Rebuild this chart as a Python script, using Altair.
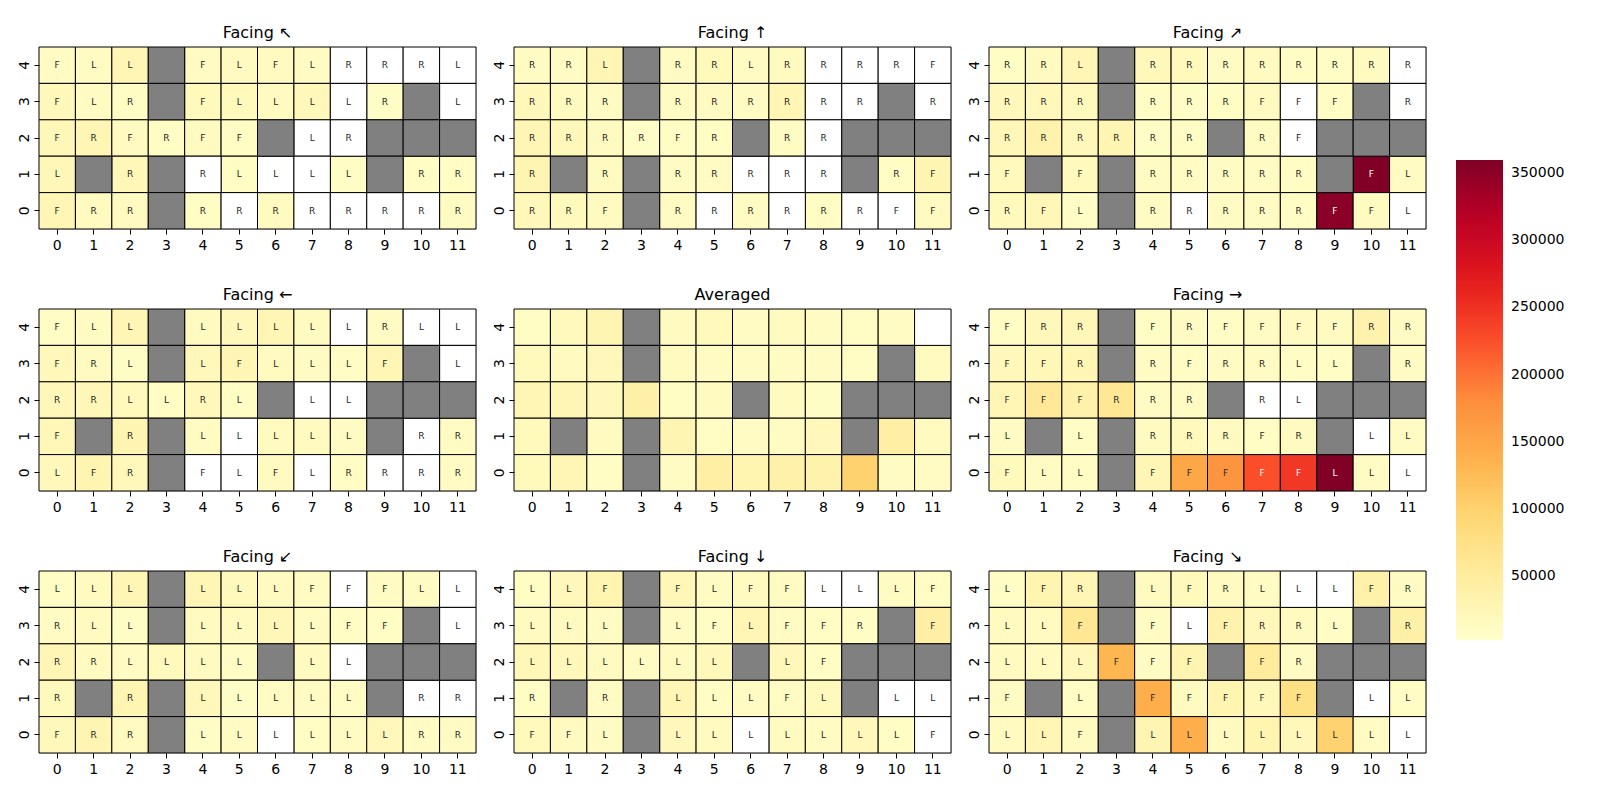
import altair as alt
import pandas as pd

# ---------------- data (rows listed from y=4 at top down to y=0) ----------------
PANELS = ["Facing ↖", "Facing ↑", "Facing ↗",
          "Facing ←", "Averaged", "Facing →",
          "Facing ↙", "Facing ↓", "Facing ↘"]

N = None

LET_NW = ["FLL#FLFLRRRL", "FLR#FLLLLR#L", "FRFRFF#LR###", "L#R#RLLLL#RR", "FRR#RRRRRRRR"]
VAL_NW = [[12000, 12000, 25000, N, 12000, 15000, 15000, 12000, N, N, N, N],
          [20000, 12000, 10000, N, 18000, 18000, 15000, 20000, N, 8000, N, N],
          [22000, 25000, 15000, 10000, 15000, 10000, N, N, N, N, N, N],
          [22000, N, 22000, N, N, 10000, N, N, 8000, N, 10000, 10000],
          [25000, 15000, 15000, N, 10000, N, 15000, N, N, N, N, 12000]]

LET_N = ["RRL#RRLRRRRF", "RRR#RRRRRR#R", "RRRRFR#RR###", "R#R#RRRRR#RF", "RRF#RRRRRRFF"]
VAL_N = [[12000, 12000, 25000, N, 12000, 18000, 12000, 15000, N, N, N, N],
         [20000, 15000, 12000, N, 12000, 15000, 12000, 25000, N, N, N, N],
         [25000, 20000, 15000, 8000, 10000, 10000, N, 12000, N, N, N, N],
         [28000, N, 15000, N, 12000, 12000, N, N, N, N, 10000, 28000],
         [20000, 18000, 15000, N, 12000, N, 12000, N, 10000, N, N, 15000]]

LET_NE = ["RRL#RRRRRRRR", "RRR#RRRFFF#R", "RRRRRR#RF###", "F#F#RRRRR#FL", "RFL#RRRRRFFL"]
VAL_NE = [[10000, 15000, 25000, N, 20000, 18000, 12000, 15000, 10000, 10000, 15000, N],
          [20000, 20000, 18000, N, 10000, 8000, 10000, 15000, N, 10000, N, N],
          [22000, 35000, 20000, 28000, 8000, 10000, N, 12000, N, N, N, N],
          [18000, N, 18000, N, 12000, 12000, 12000, 12000, 10000, N, 360000, 12000],
          [18000, 22000, 8000, N, 12000, N, 12000, 12000, 10000, 352000, 15000, N]]

LET_W = ["FLL#LLLLLRLL", "FRL#LFLLLF#L", "RRLLRL#LL###", "F#R#LLLLL#RR", "LFR#FLFLRRRR"]
VAL_W = [[10000, 12000, 25000, N, 15000, 20000, 25000, 15000, N, 12000, N, N],
         [20000, 15000, 8000, N, 20000, 25000, 15000, 12000, 10000, 25000, N, N],
         [22000, 22000, 18000, 10000, 20000, 10000, N, N, N, N, N, N],
         [22000, N, 28000, N, 12000, N, 15000, 15000, 12000, N, N, 12000],
         [20000, 30000, 20000, N, N, N, 15000, N, 10000, N, N, 12000]]

LET_AVG = ["...#........", "...#......#.", "......#..###", ".#.#.....#..", "...#........"]
VAL_AVG = [[10000, 18000, 28000, N, 15000, 18000, 12000, 15000, 12000, 10000, 12000, N],
           [18000, 15000, 20000, N, 15000, 12000, 12000, 12000, 12000, 10000, N, 15000],
           [25000, 25000, 20000, 40000, 10000, 15000, N, 15000, 8000, N, N, N],
           [18000, N, 15000, N, 28000, 10000, 12000, 12000, 20000, N, 42000, 15000],
           [18000, 25000, 10000, N, 12000, 42000, 30000, 38000, 35000, 100000, 12000, 12000]]

LET_E = ["FRR#FRFFFFRR", "FFR#RFRRLL#R", "FFFRRR#RL###", "L#L#RRRFR#LL", "FLL#FFFFFLLL"]
VAL_E = [[10000, 20000, 22000, N, 10000, 12000, 10000, 12000, 15000, 15000, 35000, 12000],
         [20000, 22000, 25000, N, 12000, 10000, 12000, 12000, 10000, 10000, N, 12000],
         [25000, 55000, 38000, 60000, 12000, 12000, N, N, N, N, N, N],
         [12000, N, 10000, N, 15000, 18000, 15000, 10000, 15000, N, N, 12000],
         [18000, 12000, 10000, N, 25000, 150000, 172000, 226000, 245000, 360000, 12000, N]]

LET_SW = ["LLL#LLLFFFLL", "RLL#LLLLFF#L", "RRLLLL#LL###", "R#R#LLLLL#RR", "FRR#LLLLLLRR"]
VAL_SW = [[10000, 15000, 25000, N, 25000, 18000, 15000, 12000, N, 12000, 12000, N],
          [12000, 15000, 8000, N, 15000, 15000, 22000, 12000, 10000, 10000, N, N],
          [25000, 15000, 12000, 18000, 15000, 10000, N, 15000, N, N, N, N],
          [18000, N, 28000, N, 20000, 8000, 12000, 12000, 10000, N, N, N],
          [20000, 28000, 15000, N, 8000, 12000, N, 10000, 12000, 20000, 12000, 12000]]

LET_S = ["LLF#FLFFLLLF", "LLL#LFLFFR#F", "LLLLLL#LF###", "R#R#LLLFL#LL", "FFL#LLLLLLLF"]
VAL_S = [[10000, 20000, 30000, N, 22000, 12000, 15000, 12000, N, N, 12000, 10000],
         [15000, 15000, 12000, N, 12000, 10000, 25000, 12000, 10000, 10000, N, 42000],
         [22000, 20000, 15000, 12000, 15000, 20000, N, 20000, 10000, N, N, N],
         [10000, N, 12000, N, 25000, 10000, 12000, 12000, 18000, N, N, N],
         [18000, 15000, 12000, N, 20000, 15000, N, 15000, 12000, 20000, 10000, N]]

LET_SE = ["LFR#LFRLLLFR", "LLF#FLFRRL#R", "LLLFFF#FR###", "F#L#FFFFF#LL", "LLF#LLLLLLLL"]
VAL_SE = [[10000, 30000, 25000, N, 15000, 18000, 15000, 12000, N, N, 38000, 12000],
          [15000, 15000, 60000, N, 12000, N, 35000, 20000, 15000, 10000, N, 40000],
          [15000, 15000, 20000, 132000, 12000, 30000, N, 50000, 12000, N, N, N],
          [12000, N, 10000, N, 140000, 15000, 30000, 20000, 75000, N, N, 10000],
          [15000, 25000, 15000, N, 28000, 140000, 15000, 30000, 20000, 100000, 12000, N]]

LETTERS = [LET_NW, LET_N, LET_NE, LET_W, LET_AVG, LET_E, LET_SW, LET_S, LET_SE]
VALUES = [VAL_NW, VAL_N, VAL_NE, VAL_W, VAL_AVG, VAL_E, VAL_SW, VAL_S, VAL_SE]

X_TICKS = list(range(12))
Y_TICKS = [4, 3, 2, 1, 0]

CMIN, CMAX = 2000, 360000
YLORRD = ["#ffffcc", "#ffeda0", "#fed976", "#feb24c", "#fd8d3c",
          "#fc4e2a", "#e31a1c", "#bd0026", "#800026"]
LEGEND_VALUES = [50000, 100000, 150000, 200000, 250000, 300000, 350000]

rows = []
for name, lets, vals in zip(PANELS, LETTERS, VALUES):
    for ri, yv in enumerate(Y_TICKS):
        for xi in X_TICKS:
            ch = lets[ri][xi]
            v = vals[ri][xi]
            if ch == "#":
                kind = "wall"
            elif v is None:
                kind = "empty"
            else:
                kind = "val"
            dark = (v is not None) and v > 200000
            rows.append(dict(panel=name, x=xi, y=yv, v=v,
                             t="" if ch in "#." else ch, kind=kind,
                             tcol="light" if dark else "dark"))
df = pd.DataFrame(rows)

FONT = "DejaVu Sans"
W, H = 437, 182
domain_stops = [CMIN + (CMAX - CMIN) * i / 8 for i in range(9)]


def panel(name, with_legend):
    base = alt.Chart(df).transform_filter(alt.datum.panel == name)
    xenc = alt.X("x:O", scale=alt.Scale(domain=X_TICKS, paddingInner=0, paddingOuter=0),
                 axis=alt.Axis(title=None, labelAngle=0, domain=False, tickSize=5,
                               tickColor="black", labelColor="black", labelFontSize=14,
                               labelFont=FONT, labelPadding=4, minExtent=24, maxExtent=24))
    yenc = alt.Y("y:O", scale=alt.Scale(domain=Y_TICKS, paddingInner=0, paddingOuter=0),
                 axis=alt.Axis(title=None, labelAngle=270, domain=False, tickSize=5,
                               tickColor="black", labelColor="black", labelFontSize=14,
                               labelFont=FONT, labelPadding=10, labelBaseline="middle",
                               minExtent=28, maxExtent=28))
    legend = alt.Legend(title=None, orient="none", legendX=1417, legendY=113,
                        gradientLength=480, gradientThickness=47, gradientStrokeWidth=0,
                        values=LEGEND_VALUES, format="d", labelFontSize=14,
                        labelFont=FONT, labelColor="black", labelOffset=8) if with_legend else None
    heat = base.transform_filter(alt.datum.kind == "val").mark_rect(
        stroke="black", strokeWidth=1).encode(
        x=xenc, y=yenc,
        color=alt.Color("v:Q", scale=alt.Scale(domain=domain_stops, range=YLORRD,
                                               interpolate="rgb"), legend=legend))
    empty = base.transform_filter(alt.datum.kind == "empty").mark_rect(
        fill="white", stroke="black", strokeWidth=1).encode(x=xenc, y=yenc)
    wall = base.transform_filter(alt.datum.kind == "wall").mark_rect(
        fill="#808080", stroke="black", strokeWidth=1).encode(x=xenc, y=yenc)
    text_dark = base.transform_filter(
        (alt.datum.t != "") & (alt.datum.tcol == "dark")).mark_text(
        font=FONT, fontSize=9, fill="#262626").encode(x=xenc, y=yenc, text="t:N")
    text_light = base.transform_filter(
        (alt.datum.t != "") & (alt.datum.tcol == "light")).mark_text(
        font=FONT, fontSize=9, fill="white").encode(x=xenc, y=yenc, text="t:N")
    return alt.layer(heat, empty, wall, text_dark, text_light).properties(
        width=W, height=H,
        title=alt.TitleParams(name, font=FONT, fontSize=16, fontWeight="normal",
                              color="black", offset=6))


grid_rows = []
for r in range(3):
    grid_rows.append(alt.hconcat(*[panel(PANELS[r * 3 + c], r == 0 and c == 0)
                                   for c in range(3)], spacing=8))
chart = alt.vconcat(*grid_rows, spacing=32).resolve_scale(color="shared").configure_view(
    stroke=None).properties(
    padding={"left": 2, "top": 16, "right": 5, "bottom": 5}).configure(background="white")

chart.save("out.html", embed_options={"renderer": "svg", "actions": False})
